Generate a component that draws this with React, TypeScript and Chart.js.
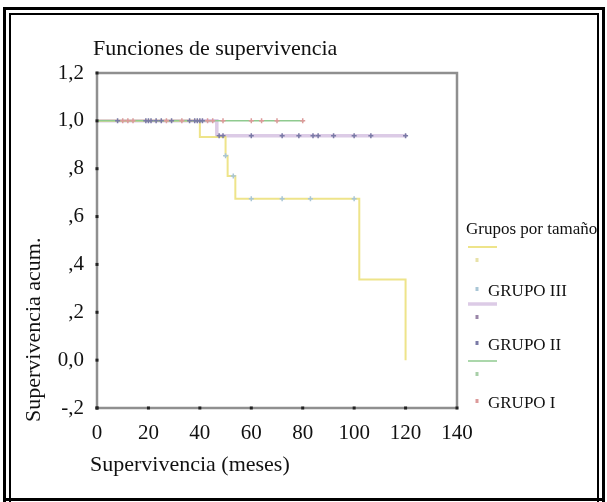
import { useEffect, useRef } from "react";
import { Chart, registerables } from "chart.js";

Chart.register(...registerables);

const chartTitle = "Funciones de supervivencia";
const xAxisTitle = "Supervivencia (meses)";
const yAxisTitle = "Supervivencia acum.";
const legendTitle = "Grupos por tamaño";
const groupNames = ["GRUPO III", "GRUPO II", "GRUPO I"];

const xMin = 0;
const xMax = 140;
const xStep = 20;
const yTickValues = [-0.2, 0, 0.2, 0.4, 0.6, 0.8, 1.0, 1.2];
const yTickLabels = ["-,2", "0,0", ",2", ",4", ",6", ",8", "1,0", "1,2"];

// Kaplan-Meier steps: time of event, survival after it
const g3Times = [0, 40, 50, 50.8, 53.8, 102, 120];
const g3Surv = [1, 0.933, 0.854, 0.77, 0.674, 0.337, 0];
const g2Times = [0, 46.6, 120.5];
const g2Surv = [1, 0.9375, 0.9375];
const g1Times = [0, 80.5];
const g1Surv = [1, 1];

// censored cases
const g3CensTimes = [50, 53, 60, 72, 83, 100];
const g3CensSurv = [0.854, 0.77, 0.674, 0.674, 0.674, 0.674];
const g2CensTimes = [8, 19, 20, 21, 23, 25, 29, 36, 38, 39, 40, 41, 47.5, 49, 60, 72, 78.5, 84, 86, 92, 100, 106.5, 120];
const g2CensSurv = [1, 1, 1, 1, 1, 1, 1, 1, 1, 1, 1, 1, 0.9375, 0.9375, 0.9375, 0.9375, 0.9375, 0.9375, 0.9375, 0.9375, 0.9375, 0.9375, 0.9375];
const g1CensTimes = [10, 12, 14, 27, 33, 43, 45, 49, 60, 64, 70, 80];
const g1CensSurv = [1, 1, 1, 1, 1, 1, 1, 1, 1, 1, 1, 1];

const colG3Line = "#eee48a";
const colG2Line = "#dccbe6";
const colG1Line = "#8fca8f";
const colG3Cens = "#a9c6d6";
const colG2Cens = "#7a7aa6";
const colG1Cens = "#dc9a9a";

const serif = "'Liberation Serif', 'Times New Roman', serif";

const pts = (xs: number[], ys: number[]) => xs.map((x, i) => ({ x, y: ys[i] }));

const decorPlugin = {
  id: "decor",
  afterDraw(chart: any) {
    const ctx = chart.ctx;
    const a = chart.chartArea;
    ctx.save();
    // plot frame
    ctx.strokeStyle = "#8f8f8f";
    ctx.lineWidth = 2.5;
    ctx.strokeRect(a.left, a.top, a.right - a.left, a.bottom - a.top);
    // tick dots on axes
    ctx.fillStyle = "#222";
    const xs = chart.scales.x;
    const ys = chart.scales.y;
    for (let v = xMin; v <= xMax; v += xStep) {
      const px = xs.getPixelForValue(v);
      ctx.fillRect(px - 1.5, a.bottom - 1.5, 3, 3);
    }
    for (const v of yTickValues) {
      const py = ys.getPixelForValue(v);
      ctx.fillRect(a.left - 1.5, py - 1.5, 3, 3);
    }
    // titles
    ctx.fillStyle = "#111";
    ctx.textAlign = "left";
    ctx.textBaseline = "alphabetic";
    ctx.font = `22px ${serif}`;
    ctx.fillText(chartTitle, 93, 55);
    ctx.fillText(xAxisTitle, 90, 471);
    ctx.save();
    ctx.translate(40, 422);
    ctx.rotate(-Math.PI / 2);
    ctx.fillText(yAxisTitle, 0, 0);
    ctx.restore();
    // legend
    ctx.font = `17px ${serif}`;
    ctx.fillText(legendTitle, 466, 234);
    const lineYs = [247, 304, 361];
    const lineCols = [colG3Line, colG2Line, colG1Line];
    const lineWs = [2, 3.5, 1.5];
    const censMarkYs = [260, 317, 374];
    const censMarkCols = ["#e8e2a8", "#9a86a8", "#a8cfa8"];
    const labelYs = [290, 344, 402];
    const labelCols = [colG3Cens, colG2Cens, colG1Cens];
    for (let i = 0; i < groupNames.length; i++) {
      ctx.strokeStyle = lineCols[i];
      ctx.lineWidth = lineWs[i];
      ctx.beginPath();
      ctx.moveTo(468, lineYs[i]);
      ctx.lineTo(497, lineYs[i]);
      ctx.stroke();
      ctx.fillStyle = censMarkCols[i];
      ctx.fillRect(475.5, censMarkYs[i] - 2, 3, 4);
      ctx.fillStyle = labelCols[i];
      ctx.fillRect(475.5, labelYs[i] - 3, 3, 4);
      ctx.fillStyle = "#111";
      ctx.fillText(groupNames[i], 488, labelYs[i] + 6);
    }
    ctx.restore();
  },
};

export default function App() {
  const ref = useRef<HTMLCanvasElement | null>(null);
  useEffect(() => {
    if (!ref.current) return;
    const lineDs = (label: string, xs: number[], ys: number[], color: string, w: number, order: number) => ({
      type: "line" as const,
      label,
      data: pts(xs, ys),
      borderColor: color,
      backgroundColor: color,
      borderWidth: w,
      stepped: true,
      pointRadius: 0,
      fill: false,
      order,
    });
    const censDs = (label: string, xs: number[], ys: number[], color: string) => ({
      type: "scatter" as const,
      label,
      data: pts(xs, ys),
      borderColor: color,
      backgroundColor: color,
      pointStyle: "cross",
      pointRadius: 2.5,
      borderWidth: 1.5,
      showLine: false,
      order: 0,
    });
    const chart = new Chart(ref.current, {
      type: "line",
      data: {
        datasets: [
          lineDs("GRUPO II", g2Times, g2Surv, colG2Line, 3.5, 3),
          lineDs("GRUPO III", g3Times, g3Surv, colG3Line, 2, 2),
          lineDs("GRUPO I", g1Times, g1Surv, colG1Line, 1.5, 1),
          censDs("GRUPO III censurado", g3CensTimes, g3CensSurv, colG3Cens),
          censDs("GRUPO II censurado", g2CensTimes, g2CensSurv, colG2Cens),
          censDs("GRUPO I censurado", g1CensTimes, g1CensSurv, colG1Cens),
        ] as any,
      },
      options: {
        animation: false,
        responsive: false,
        devicePixelRatio: 1,
        layout: { padding: { left: 0, top: 73, right: 150, bottom: 54 } },
        plugins: {
          legend: { display: false },
          tooltip: { enabled: false },
          title: { display: false },
        },
        scales: {
          x: {
            type: "linear",
            min: xMin,
            max: xMax,
            afterFit: (s: any) => {
              s.height = 40;
            },
            ticks: {
              stepSize: xStep,
              color: "#111",
              font: { family: serif, size: 21 },
              padding: 9,
              maxRotation: 0,
            },
            grid: { display: false, drawTicks: true, tickLength: 4 },
            border: { display: false },
          },
          y: {
            type: "linear",
            min: -0.2,
            max: 1.2,
            afterFit: (s: any) => {
              s.width = 97;
            },
            afterBuildTicks: (s: any) => {
              s.ticks = yTickValues.map((v) => ({ value: v }));
            },
            ticks: {
              color: "#111",
              font: { family: serif, size: 21 },
              padding: 9,
              callback: (v: any) => {
                const i = yTickValues.findIndex((t) => Math.abs(t - Number(v)) < 1e-6);
                return i >= 0 ? yTickLabels[i] : "";
              },
            },
            grid: { display: false, drawTicks: true, tickLength: 4 },
            border: { display: false },
          },
        },
      },
      plugins: [decorPlugin],
    });
    return () => chart.destroy();
  }, []);

  const line = (style: any) => <div style={{ position: "absolute", background: "#000", ...style }} />;

  return (
    <div style={{ position: "absolute", left: 0, top: 0, width: 607, height: 502, background: "#fff", overflow: "hidden" }}>
      <canvas ref={ref} width={607} height={502} style={{ position: "absolute", left: 0, top: 0, width: 607, height: 502 }} />
      {line({ left: 3, top: 7, width: 3, height: 495 })}
      {line({ left: 3, top: 7, width: 602, height: 3 })}
      {line({ left: 602, top: 7, width: 3, height: 495 })}
      {line({ left: 9, top: 13, width: 2, height: 489 })}
      {line({ left: 9, top: 13, width: 590, height: 2 })}
      {line({ left: 597, top: 13, width: 2, height: 489 })}
      {line({ left: 3, top: 498, width: 602, height: 3 })}
    </div>
  );
}
